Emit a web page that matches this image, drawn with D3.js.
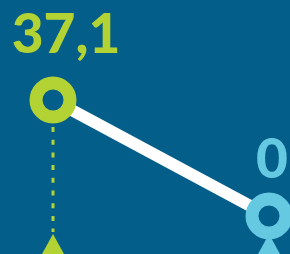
<!DOCTYPE html>
<html lang="en">
<head>
<meta charset="UTF-8">
<title>slope</title>
<style>
  html, body { margin: 0; padding: 0; background: #035E89; overflow: hidden; }
</style>
</head>
<body>
<script src="https://cdnjs.cloudflare.com/ajax/libs/d3/7.8.5/d3.min.js"></script>
<script>
var labels = ["A", "B"];
var values = [37.1, 0];
var colors = ["#B3D334", "#66C9E2"];

var width = 290, height = 254;
var bg = "#035E89";

var svg = d3.select("body").append("svg")
  .attr("width", width).attr("height", height)
  .style("display", "block");

svg.append("rect").attr("width", width).attr("height", height).attr("fill", bg);

var x = d3.scalePoint().domain(labels).range([53, 269]);
var y = d3.scaleLinear().domain([0, 37.1]).range([216, 100]);
var baseY = 254;

var fmt = d3.formatLocale({decimal: ",", thousands: ".", grouping: [3], currency: ["", ""]}).format(".1~f");

// dashed drop lines
svg.selectAll(".drop").data(values).enter().append("line")
  .attr("x1", function(d, i) { return x(labels[i]); })
  .attr("x2", function(d, i) { return x(labels[i]); })
  .attr("y1", function(d) { return y(d) + 27; })
  .attr("y2", baseY - 22)
  .attr("stroke", function(d, i) { return colors[i]; })
  .attr("stroke-width", 3)
  .attr("stroke-dasharray", "5,7.7");

// triangles on base
svg.selectAll(".tri").data(values).enter().append("path")
  .attr("d", function(d, i) {
    var cx = x(labels[i]);
    return "M" + (cx - 11) + "," + baseY + "L" + cx + "," + (baseY - 20) + "L" + (cx + 11) + "," + baseY + "Z";
  })
  .attr("fill", function(d, i) { return colors[i]; });

// connecting line
var line = d3.line()
  .x(function(d, i) { return x(labels[i]); })
  .y(function(d) { return y(d); });
svg.append("path").datum(values)
  .attr("d", line)
  .attr("fill", "none")
  .attr("stroke", "#ffffff")
  .attr("stroke-width", 12);

// points
svg.selectAll(".pt").data(values).enter().append("circle")
  .attr("cx", function(d, i) { return x(labels[i]); })
  .attr("cy", function(d) { return y(d); })
  .attr("r", 17)
  .attr("fill", bg)
  .attr("stroke", function(d, i) { return colors[i]; })
  .attr("stroke-width", 13);

// value labels
var dx = [13, 3], dy = [-47, -38];
svg.selectAll(".lbl").data(values).enter().append("text")
  .attr("x", function(d, i) { return x(labels[i]) + dx[i]; })
  .attr("y", function(d, i) { return y(d) + dy[i]; })
  .attr("text-anchor", "middle")
  .attr("font-family", "Lato, sans-serif")
  .attr("font-weight", 900)
  .attr("font-size", 55)
  .attr("fill", function(d, i) { return colors[i]; })
  .text(function(d) { return fmt(d); });
</script>
</body>
</html>
